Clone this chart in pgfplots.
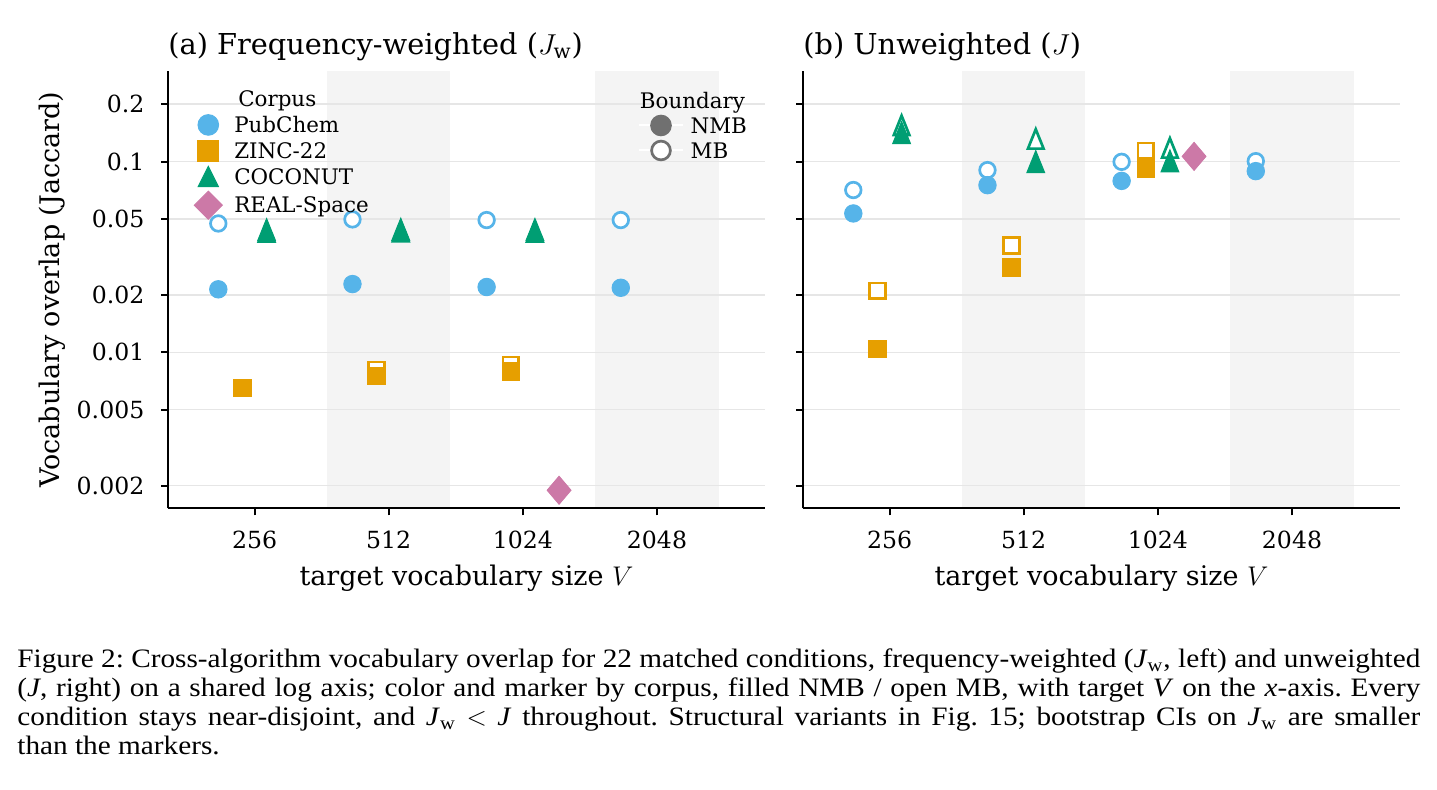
\RequirePackage{fix-cm}
\documentclass[border=0pt]{standalone}
\usepackage{fontspec}
\setmainfont{DejaVu Serif}
\newfontfamily\capfont[FakeStretch=1.1]{Liberation Serif}
\usepackage{pgfplots}
\pgfplotsset{compat=1.18}

\definecolor{cPub}{HTML}{56B4E9}
\definecolor{cZinc}{HTML}{E69F00}
\definecolor{cCoco}{HTML}{009E73}
\definecolor{cReal}{HTML}{CC79A7}
\definecolor{bandc}{HTML}{F4F4F4}
\definecolor{gridc}{HTML}{E6E6E6}
\definecolor{bgray}{HTML}{707070}

\pgfdeclareplotmark{mtri}{%
  \pgfpathmoveto{\pgfqpoint{0pt}{1.24\pgfplotmarksize}}%
  \pgfpathlineto{\pgfqpoint{-\pgfplotmarksize}{-1.24\pgfplotmarksize}}%
  \pgfpathlineto{\pgfqpoint{\pgfplotmarksize}{-1.24\pgfplotmarksize}}%
  \pgfpathclose\pgfusepathqfillstroke}
\pgfdeclareplotmark{ltri}{%
  \pgfpathmoveto{\pgfqpoint{0pt}{1.0\pgfplotmarksize}}%
  \pgfpathlineto{\pgfqpoint{-\pgfplotmarksize}{-1.0\pgfplotmarksize}}%
  \pgfpathlineto{\pgfqpoint{\pgfplotmarksize}{-1.0\pgfplotmarksize}}%
  \pgfpathclose\pgfusepathqfillstroke}
\pgfdeclareplotmark{mdia}{%
  \pgfpathmoveto{\pgfqpoint{0pt}{\pgfplotmarksize}}%
  \pgfpathlineto{\pgfqpoint{0.85\pgfplotmarksize}{0pt}}%
  \pgfpathlineto{\pgfqpoint{0pt}{-\pgfplotmarksize}}%
  \pgfpathlineto{\pgfqpoint{-0.85\pgfplotmarksize}{0pt}}%
  \pgfpathclose\pgfusepathqfillstroke}
\pgfdeclareplotmark{ldia}{%
  \pgfpathmoveto{\pgfqpoint{0pt}{\pgfplotmarksize}}%
  \pgfpathlineto{\pgfqpoint{\pgfplotmarksize}{0pt}}%
  \pgfpathlineto{\pgfqpoint{0pt}{-\pgfplotmarksize}}%
  \pgfpathlineto{\pgfqpoint{-\pgfplotmarksize}{0pt}}%
  \pgfpathclose\pgfusepathqfillstroke}

\tikzset{
  fillmk/.style={mark options={draw=#1, fill=#1, line width=0.5pt, solid}},
  openmk/.style={mark options={draw=#1, fill=white, line width=1.35pt, solid}},
}

\begin{document}
\begin{tikzpicture}

% ---------------- (a) ----------------
\begin{axis}[at={(84pt,140.85pt)}, anchor=south west,
    scale only axis, width=298.5pt, height=218.65pt,
    xmin=-0.645, xmax=3.805,
    ymode=log, ymin=0.00152, ymax=0.299,
    axis x line*=bottom, axis y line*=left,
    axis line style={line width=1pt, black},
    xtick={0,1,2,3}, xticklabels={256,512,1024,2048},
    ytick={0.002,0.005,0.01,0.02,0.05,0.1,0.2},
    yticklabels={0.002,0.005,0.01,0.02,0.05,0.1,0.2},
    yminorticks=false, xminorticks=false,
    tick align=outside, major tick length=3.5pt,
    major tick style={line width=1pt, black},
    ymajorgrids, major grid style={gridc, line width=0.8pt},
    set layers,
    tick label style={font=\fontsize{11.8}{13}\selectfont},
    xticklabel style={anchor=base, inner sep=0pt, yshift=-16.8pt},
    yticklabel style={anchor=east, inner sep=0pt, xshift=-8.15pt},
    xlabel={target vocabulary size $V$},
    xlabel style={at={(axis description cs:0.5,-0.1777)}, anchor=base, inner sep=0pt, font=\fontsize{13.5}{15}\selectfont},
    title style={at={(axis description cs:0,1)}, anchor=base west, yshift=2.25pt, inner sep=0pt, font=\fontsize{14.4}{16}\selectfont},
    title={(a) Frequency-weighted ($J_\mathrm{w}$)},
    ylabel={Vocabulary overlap (Jaccard)},
    ylabel style={at={(axis description cs:-0.1945,0.5)}, anchor=center, inner sep=0pt, font=\fontsize{13.5}{15}\selectfont},
    legend cell align=left,
    legend style={at={(axis description cs:0.0407,0.961)}, anchor=north west, draw=none, fill=none,
      inner sep=0pt, outer sep=0pt, row sep=0pt, column sep=5pt,
      font=\fontsize{10.7}{12}\selectfont,
      nodes={inner sep=0pt, text height=9.4pt, text depth=3.5pt, anchor=base west}},
    legend image code/.code={\path[draw=none] (0pt,3.85pt) -- (16pt,3.85pt); \draw[only marks] plot coordinates {(8pt,3.85pt)};},
]
\addplot[fill=bandc, draw=none, on layer=axis background, forget plot] coordinates {(0.54,0.00152) (1.46,0.00152) (1.46,0.299) (0.54,0.299)} -- cycle;
\addplot[fill=bandc, draw=none, on layer=axis background, forget plot] coordinates {(2.54,0.00152) (3.46,0.00152) (3.46,0.299) (2.54,0.299)} -- cycle;

% PubChem
\addplot[only marks, openmk=cPub, mark=*, mark size=3.9pt, forget plot] coordinates {(-0.27,0.0474) (0.73,0.0498) (1.73,0.0494) (2.73,0.0494)};
\addplot[only marks, fillmk=cPub, mark=*, mark size=4.35pt, forget plot] coordinates {(-0.27,0.0214) (0.73,0.0228) (1.73,0.0220) (2.73,0.0218)};
% ZINC-22
\addplot[only marks, openmk=cZinc, mark=square*, mark size=3.9pt, forget plot] coordinates {(-0.09,0.0065) (0.91,0.0081) (1.91,0.0086)};
\addplot[only marks, fillmk=cZinc, mark=square*, mark size=4.35pt, forget plot] coordinates {(-0.09,0.0065) (0.91,0.00753) (1.91,0.00793)};
% COCONUT
\addplot[only marks, openmk=cCoco, mark=mtri, mark size=3.9pt, forget plot] coordinates {(0.09,0.0428) (1.09,0.0430) (2.09,0.0429)};
\addplot[only marks, fillmk=cCoco, mark=mtri, mark size=4.45pt, forget plot] coordinates {(0.09,0.0440) (1.09,0.0442) (2.09,0.0441)};
% REAL-Space
\addplot[only marks, openmk=cReal, mark=mdia, mark size=6.3pt, forget plot] coordinates {(2.27,0.00189)};
\addplot[only marks, fillmk=cReal, mark=mdia, mark size=6.75pt, forget plot] coordinates {(2.27,0.00189)};

\addlegendimage{empty legend}
\addlegendentry{\hspace*{2pt}Corpus}
\addlegendimage{only marks, fillmk=cPub, mark=*, mark size=5.15pt}
\addlegendentry{PubChem}
\addlegendimage{only marks, fillmk=cZinc, mark=square*, mark size=5.15pt}
\addlegendentry{ZINC-22}
\addlegendimage{only marks, fillmk=cCoco, mark=ltri, mark size=5.05pt}
\addlegendentry{COCONUT}
\addlegendimage{only marks, fillmk=cReal, mark=ldia, mark size=7.0pt}
\addlegendentry{REAL-Space}
\end{axis}

% ---------------- (b) ----------------
\begin{axis}[at={(401.5pt,140.85pt)}, anchor=south west,
    scale only axis, width=298.5pt, height=218.65pt,
    xmin=-0.645, xmax=3.805,
    ymode=log, ymin=0.00152, ymax=0.299,
    axis x line*=bottom, axis y line*=left,
    axis line style={line width=1pt, black},
    xtick={0,1,2,3}, xticklabels={256,512,1024,2048},
    ytick={0.002,0.005,0.01,0.02,0.05,0.1,0.2},
    yticklabels={},
    yminorticks=false, xminorticks=false,
    tick align=outside, major tick length=3.5pt,
    major tick style={line width=1pt, black},
    ymajorgrids, major grid style={gridc, line width=0.8pt},
    set layers,
    tick label style={font=\fontsize{11.8}{13}\selectfont},
    xticklabel style={anchor=base, inner sep=0pt, yshift=-16.8pt},
    xlabel={target vocabulary size $V$},
    xlabel style={at={(axis description cs:0.5,-0.1777)}, anchor=base, inner sep=0pt, font=\fontsize{13.5}{15}\selectfont},
    title style={at={(axis description cs:0,1)}, anchor=base west, yshift=2.25pt, inner sep=0pt, font=\fontsize{14.4}{16}\selectfont},
    title={(b) Unweighted ($J$)},
    legend cell align=left,
    legend style={at={(axis description cs:-0.2764,0.957)}, anchor=north west, draw=none, fill=none,
      inner sep=0pt, outer sep=0pt, row sep=0pt, column sep=3.3pt,
      font=\fontsize{10.7}{12}\selectfont,
      nodes={inner sep=0pt, text height=9.2pt, text depth=3.3pt, anchor=base west}},
    legend image code/.code={\draw[white, line width=1pt] (0pt,3.85pt) -- (22pt,3.85pt); \draw[only marks] plot coordinates {(11pt,3.85pt)};},
]
\addplot[fill=bandc, draw=none, on layer=axis background, forget plot] coordinates {(0.54,0.00152) (1.46,0.00152) (1.46,0.299) (0.54,0.299)} -- cycle;
\addplot[fill=bandc, draw=none, on layer=axis background, forget plot] coordinates {(2.54,0.00152) (3.46,0.00152) (3.46,0.299) (2.54,0.299)} -- cycle;

% PubChem
\addplot[only marks, openmk=cPub, mark=*, mark size=3.9pt, forget plot] coordinates {(-0.27,0.0710) (0.73,0.0903) (1.73,0.0998) (2.73,0.1006)};
\addplot[only marks, fillmk=cPub, mark=*, mark size=4.35pt, forget plot] coordinates {(-0.27,0.0535) (0.73,0.0753) (1.73,0.0793) (2.73,0.0892)};
% ZINC-22
\addplot[only marks, openmk=cZinc, mark=square*, mark size=3.9pt, forget plot] coordinates {(-0.09,0.0210) (0.91,0.0363) (1.91,0.1142)};
\addplot[only marks, fillmk=cZinc, mark=square*, mark size=4.35pt, forget plot] coordinates {(-0.09,0.0104) (0.91,0.0279) (1.91,0.0917)};
% COCONUT
\addplot[only marks, openmk=cCoco, mark=mtri, mark size=3.9pt, forget plot] coordinates {(0.09,0.155) (1.09,0.1316) (2.09,0.118)};
\addplot[only marks, fillmk=cCoco, mark=mtri, mark size=4.45pt, forget plot] coordinates {(0.09,0.142) (1.09,0.100) (2.09,0.1009)};
% REAL-Space
\addplot[only marks, openmk=cReal, mark=mdia, mark size=6.3pt, forget plot] coordinates {(2.27,0.1066)};
\addplot[only marks, fillmk=cReal, mark=mdia, mark size=6.75pt, forget plot] coordinates {(2.27,0.1066)};

\addlegendimage{empty legend}
\addlegendentry{\hspace*{-25.3pt}Boundary}
\addlegendimage{only marks, fillmk=bgray, mark=*, mark size=5.15pt}
\addlegendentry{NMB}
\addlegendimage{only marks, openmk=bgray, mark=*, mark size=4.7pt}
\addlegendentry{MB}
\end{axis}

% ---------------- caption ----------------
\node[anchor=base west, text width=701.5pt, align=justify, inner sep=0pt,
  font=\capfont\fontsize{13.3}{14.5}\selectfont\frenchspacing] at (8.5pt,61pt)
{Figure 2: Cross-algorithm vocabulary overlap for 22 matched conditions, frequency-weighted (\textit{J}\textsubscript{w}, left) and unweighted\linebreak
(\textit{J}, right) on a shared log axis; color and marker by corpus, filled NMB / open MB, with target \textit{V} on the \textit{x}-axis. Every\linebreak
condition stays near-disjoint, and \textit{J}\textsubscript{w} $<$ \textit{J} throughout. Structural variants in Fig.~15; bootstrap CIs on \textit{J}\textsubscript{w} are smaller\linebreak
than the markers.};

\pgfresetboundingbox
\path[use as bounding box] (0pt,0pt) rectangle (718.5pt,395pt);
\end{tikzpicture}
\end{document}
